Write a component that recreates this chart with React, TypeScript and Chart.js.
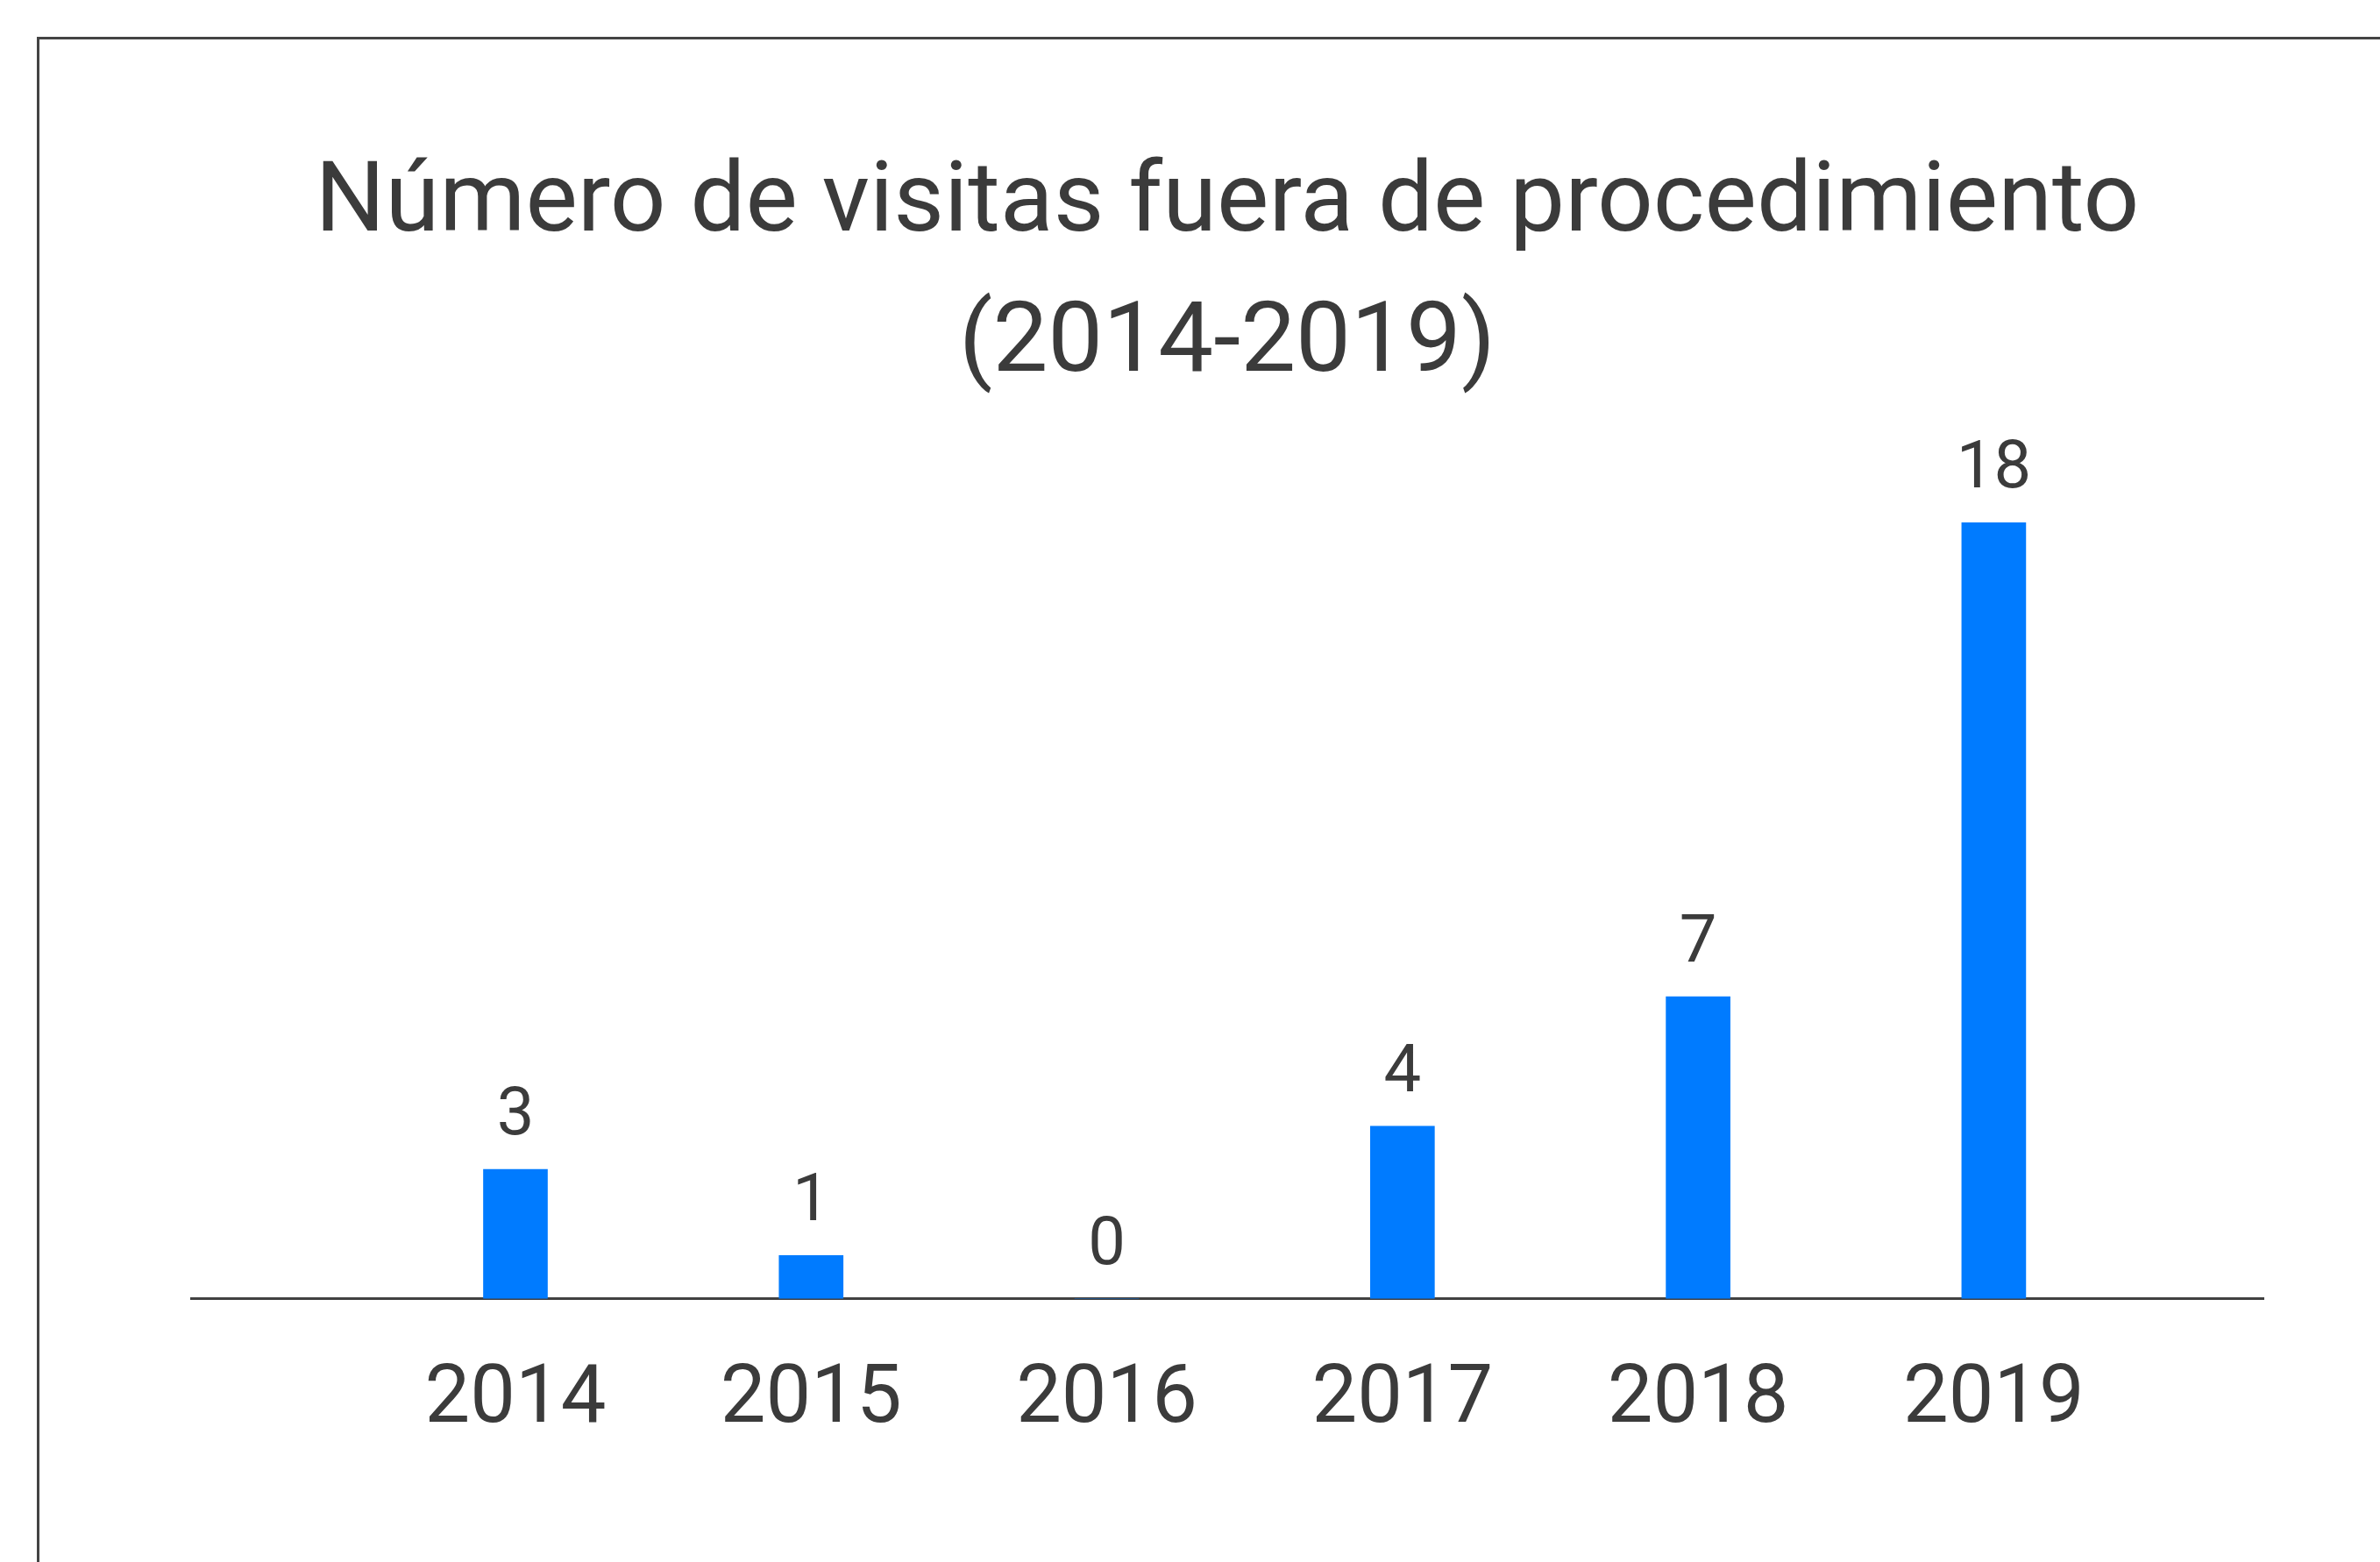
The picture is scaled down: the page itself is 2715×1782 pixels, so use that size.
import React, { useEffect, useRef } from "react";
import { Chart, registerables } from "chart.js";

Chart.register(...registerables);

// ---- data ----
const years: string[] = ["2014", "2015", "2016", "2017", "2018", "2019"];
const visits: number[] = [3, 1, 0, 4, 7, 18];
const titleLines: string[] = ["Número de visitas fuera de procedimiento", "(2014-2019)"];

// ---- styling ----
const W = 2715;
const H = 1782;
const TEXT = "#3b3b3b";
const BAR = "#007bff";
const AXIS = "#404040";
const FONT = "Roboto, 'Liberation Sans', Arial, sans-serif";

const X_MIN = -1.097;
const X_MAX = 5.912;

const valueLabels = {
  id: "valueLabels",
  afterDatasetsDraw(chart: any) {
    const { ctx } = chart;
    const meta = chart.getDatasetMeta(0);
    ctx.save();
    ctx.font = `400 76px ${FONT}`;
    ctx.fillStyle = TEXT;
    ctx.textAlign = "center";
    ctx.textBaseline = "alphabetic";
    meta.data.forEach((el: any, i: number) => {
      ctx.fillText(String(visits[i]), el.x, el.y - 40);
    });
    ctx.restore();
  },
};

export default function App() {
  const ref = useRef<HTMLCanvasElement | null>(null);

  useEffect(() => {
    const canvas = ref.current;
    if (!canvas) return;
    const chart = new Chart(canvas, {
      type: "bar",
      data: {
        datasets: [
          {
            data: visits.map((v, i) => ({ x: i, y: v })),
            backgroundColor: BAR,
            borderWidth: 0,
            barThickness: 73,
          },
        ],
      },
      options: {
        animation: false,
        responsive: false,
        maintainAspectRatio: false,
        devicePixelRatio: 1,
        layout: { padding: { left: 218, right: 133, top: 0, bottom: 66 } },
        plugins: {
          legend: { display: false },
          tooltip: { enabled: false },
          title: {
            display: true,
            text: titleLines,
            color: TEXT,
            font: { family: FONT, size: 112, weight: "normal", lineHeight: 160 / 112 },
            padding: { top: 155, bottom: 121 },
          },
        },
        scales: {
          x: {
            type: "linear",
            offset: false,
            min: X_MIN,
            max: X_MAX,
            grid: { display: false, drawTicks: false, offset: false },
            border: { display: true, color: AXIS, width: 3 },
            afterBuildTicks: (scale: any) => {
              scale.ticks = years.map((_, i) => ({ value: i }));
            },
            ticks: {
              autoSkip: false,
              maxRotation: 0,
              padding: 62,
              color: TEXT,
              font: { family: FONT, size: 92, weight: "normal", lineHeight: 1.2 },
              callback: (v: any) => years[v as number] ?? "",
            },
          },
          y: {
            display: false,
            min: 0,
            max: Math.max(...visits),
          },
        },
      },
      plugins: [valueLabels],
    } as any);
    return () => chart.destroy();
  }, []);

  return (
    <div style={{ position: "fixed", left: 0, top: 0, width: W, height: H, overflow: "hidden", background: "#fff" }}>
      <div
        style={{
          position: "absolute",
          left: 42,
          top: 42,
          width: W,
          height: H,
          borderLeft: `3px solid #444`,
          borderTop: `3px solid #444`,
        }}
      />
      <canvas ref={ref} width={W} height={H} style={{ position: "absolute", left: 0, top: 0, width: W, height: H }} />
    </div>
  );
}
